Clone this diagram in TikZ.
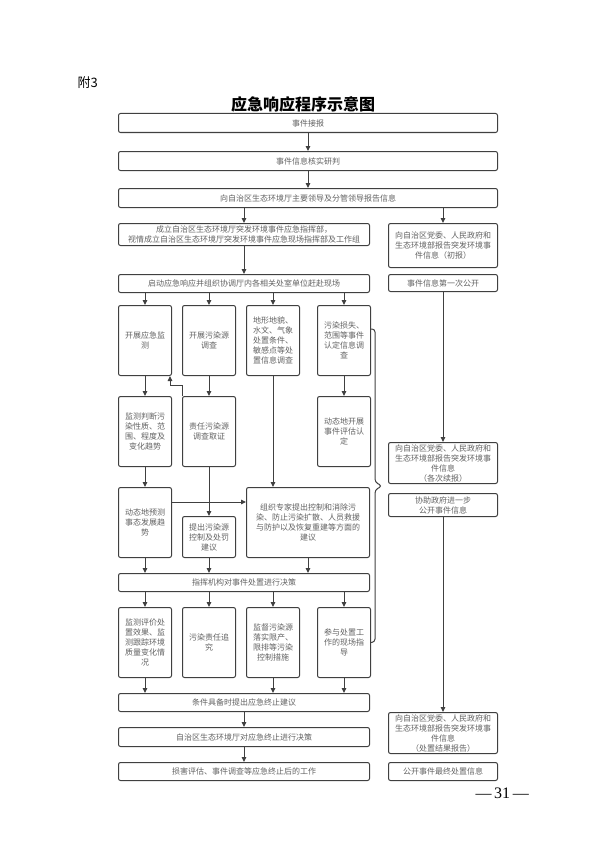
\documentclass[tikz,border=0pt]{standalone}
\usepackage{fontspec}
\newfontfamily\cjk{Noto Sans CJK SC}
\newfontfamily\pagefont{Liberation Serif}
\usetikzlibrary{arrows.meta}
\colorlet{linegray}{black!75}
\colorlet{textgray}{black!62}

\begin{document}
\begin{tikzpicture}[x=1pt,y=-1pt,
  box/.style={draw=linegray,line width=1pt,rounded corners=2pt,anchor=north west,
    inner sep=0pt,align=center,text=textgray,font=\cjk\fontsize{8}{10}\selectfont},
  wide/.style={box,minimum width=379pt,minimum height=19pt},
  half/.style={box,minimum width=251pt,minimum height=18pt},
  side/.style={box,minimum width=109pt},
  col/.style={box,minimum width=53pt,minimum height=70pt},
  flow/.style={draw=linegray,line width=1pt,-{Triangle[length=5pt,width=4.5pt]}},
  bracket/.style={draw=linegray,line width=1pt,rounded corners=3pt}]
\useasboundingbox (0,0) rectangle (600,848);

\node[anchor=west,font=\cjk\fontsize{13}{13}\selectfont] (fu) at (74,83) {附3};
\node[font=\cjk\bfseries\fontsize{16}{16}\selectfont] (title) at (303,104) {应急响应程序示意图};

% main line
\node[wide] (jiebao) at (118,113) {事件接报};
\node[wide] (hesh) at (118,151) {事件信息核实研判};
\node[wide] (baogao) at (118,188) {向自治区生态环境厅主要领导及分管领导报告信息};
\node[half,minimum height=22pt] (zhihuibu) at (118,223) {成立自治区生态环境厅突发环境事件应急指挥部，\\视情成立自治区生态环境厅突发环境事件应急现场指挥部及工作组};
\node[half] (qidong) at (118,274) {启动应急响应并组织协调厅内各相关处室单位赶赴现场};

\node[col] (ca) at (118,305) {开展应急监\\测};
\node[col] (cb) at (182,305) {开展污染源\\调查};
\node[col] (cc) at (246,305) {地形地貌、\\水文、气象\\处置条件、\\敏感点等处\\置信息调查};
\node[col] (cd) at (317,305) {污染损失、\\范围等事件\\认定信息调\\查};
\node[col] (ba) at (118,396) {监测判断污\\染性质、范\\围、程度及\\变化趋势};
\node[col] (bb) at (182,396) {责任污染源\\调查取证};
\node[col] (bd) at (317,396) {动态地开展\\事件评估认\\定};

\node[col] (yuce) at (118,487) {动态地预测\\事态发展趋\\势};
\node[col,minimum height=41pt] (jianyi) at (182,516) {提出污染源\\控制及处罚\\建议};
\node[col,minimum width=123pt] (zhuanjia) at (246,487) {组织专家提出控制和消除污\\染、防止污染扩散、人员救援\\与防护以及恢复重建等方面的\\建议};
\node[half] (juece) at (118,573) {指挥机构对事件处置进行决策};

\node[col] (da) at (118,607) {监测评价处\\置效果、监\\测跟踪环境\\质量变化情\\况};
\node[col] (db) at (182,607) {污染责任追\\究};
\node[col] (dc) at (246,607) {监督污染源\\落实限产、\\限排等污染\\控制措施};
\node[col] (dd) at (317,607) {参与处置工\\作的现场指\\导};

\node[half] (zhongzhi) at (118,693) {条件具备时提出应急终止建议};
\node[half,minimum height=19pt] (juece2) at (118,727) {自治区生态环境厅对应急终止进行决策};
\node[half] (sunhai) at (118,762) {损害评估、事件调查等应急终止后的工作};

% right line
\node[side,minimum height=44pt] (chubao) at (388,223) {向自治区党委、人民政府和\\生态环境部报告突发环境事\\件信息（初报）};
\node[side,minimum height=17pt] (gongkai) at (388,274) {事件信息第一次公开};
\node[side,minimum height=41pt] (xubao) at (388,442) {向自治区党委、人民政府和\\生态环境部报告突发环境事\\件信息\\（各次续报）};
\node[side,minimum height=23pt] (xiezhu) at (388,493) {协助政府进一步\\公开事件信息};
\node[side,minimum height=41pt] (jieguo) at (388,712) {向自治区党委、人民政府和\\生态环境部报告突发环境事\\件信息\\（处置结果报告）};
\node[side,minimum height=18pt] (zuizhong) at (388,762) {公开事件最终处置信息};

\node[anchor=west,font=\pagefont\fontsize{16}{16}\selectfont] (page) at (472,793) {—\,31\,—};

\draw[flow] (jiebao) -- (hesh);
\draw[flow] (hesh) -- (baogao);
\draw[flow] (zhihuibu.north |- baogao.south) -- (zhihuibu.north);
\draw[flow] (chubao.north |- baogao.south) -- (chubao.north);
\draw[flow] (zhihuibu) -- (qidong);
\foreach \c in {ca,cb,cc,cd}
  \draw[flow] (\c.north |- qidong.south) -- (\c.north);
\draw[flow] (ca) -- (ba);
\draw[flow] (cb) -- (bb);
\draw[flow] (cd) -- (bd);
\draw[flow] (bb.north west) -- ++(0,-11) -| ([xshift=-2pt]ca.south east);
\draw[flow] (ba) -- (yuce);
\draw[flow] (bb.south) -- (bb.south |- jianyi.north);
\draw[flow] (cc.south) -- (cc.south |- zhuanjia.north);
\draw[flow] (yuce.east |- 0,502) -- (zhuanjia.west |- 0,502);
\foreach \c in {yuce,jianyi,zhuanjia}
  \draw[flow] (\c.south) -- (\c.south |- juece.north);
\foreach \c in {da,db,dc,dd}
  \draw[flow] (\c.north |- juece.south) -- (\c.north);
\foreach \c in {da,dc,dd}
  \draw[flow] (\c.south) -- (\c.south |- zhongzhi.north);
\draw[flow] (zhongzhi) -- (juece2);
\draw[flow] (juece2) -- (sunhai);
\draw[flow] (gongkai) -- (xubao);
\draw[flow] (xiezhu) -- (jieguo);

\coordinate (tip) at (382,486);
\draw[bracket] (cd.east |- 0,329) -- (375,329) -- (375,482) -- (tip) -- (375,490) -- (375,642) -- (dd.east);
\end{tikzpicture}
\end{document}
